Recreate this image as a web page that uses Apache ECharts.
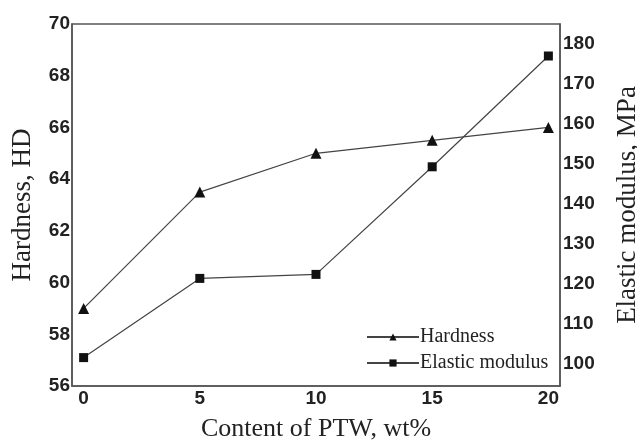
<!DOCTYPE html>
<html>
<head>
<meta charset="utf-8">
<script src="https://cdn.jsdelivr.net/npm/echarts@6/dist/echarts.min.js"></script>
<style>
  html, body { margin: 0; padding: 0; background: #fff; }
  #main { width: 637px; height: 446px; }
</style>
</head>
<body>
<div id="main"></div>
<script>
// PTW content (wt%) on x
var ptwContent = [0, 5, 10, 15, 20];
// hardness, HD (left axis)
var hardness = [59.0, 63.5, 65.0, 65.5, 66.0];
// elastic modulus, MPa (right axis)
var elasticModulus = [101.6, 121.4, 122.4, 149.3, 177.0];
// tick labels
var xTicks = [0, 5, 10, 15, 20];
var leftTicks = [56, 58, 60, 62, 64, 66, 68, 70];
var rightTicks = [100, 110, 120, 130, 140, 150, 160, 170, 180];

function pairs(xs, ys) {
    return xs.map(function (x, i) { return [x, ys[i]]; });
}

var tickFont = { fontFamily: 'Liberation Sans', fontWeight: 'bold', fontSize: 19, color: '#222' };
var frameLine = { show: true, onZero: false, lineStyle: { color: '#555', width: 1.5 } };

var myChart = echarts.init(document.getElementById('main'), null, { renderer: 'canvas' });
myChart.setOption({
    backgroundColor: '#fff',
    animation: false,
    grid: {
        left: 72, top: 24, right: 77, bottom: 60,
        outerBoundsMode: 'none', containLabel: false,
        show: true, borderColor: '#555', borderWidth: 1.5
    },
    legend: {
        orient: 'vertical',
        left: 361,
        top: 322,
        itemWidth: 52,
        itemHeight: 9,
        itemGap: 6,
        textStyle: { fontFamily: 'Liberation Serif', fontSize: 20, color: '#222', padding: [0, 0, 0, -4] },
        data: ['Hardness', 'Elastic modulus']
    },
    xAxis: {
        type: 'value',
        min: -0.5,
        max: 20.5,
        name: 'Content of PTW, wt%',
        nameLocation: 'middle',
        nameGap: 30,
        nameTextStyle: { fontFamily: 'Liberation Serif', fontSize: 26, color: '#222' },
        axisLine: frameLine,
        axisTick: { show: false },
        splitLine: { show: false },
        axisLabel: Object.assign({ customValues: xTicks, margin: 3 }, tickFont)
    },
    yAxis: [{
        type: 'value',
        position: 'left',
        min: 56,
        max: 70,
        interval: 2,
        name: 'Hardness, HD',
        nameLocation: 'middle',
        nameRotate: 90,
        nameGap: 36,
        nameTextStyle: { fontFamily: 'Liberation Serif', fontSize: 27, color: '#222' },
        axisLine: frameLine,
        axisTick: { show: false },
        splitLine: { show: false },
        axisLabel: Object.assign({ customValues: leftTicks, margin: 2 }, tickFont)
    }, {
        type: 'value',
        position: 'right',
        min: 94.5,
        max: 185,
        name: 'Elastic modulus, MPa',
        nameLocation: 'middle',
        nameRotate: 90,
        nameGap: 54,
        nameTextStyle: { fontFamily: 'Liberation Serif', fontSize: 27, color: '#222' },
        axisLine: frameLine,
        axisTick: { show: false },
        splitLine: { show: false },
        axisLabel: Object.assign({ customValues: rightTicks, margin: 3 }, tickFont)
    }],
    series: [{
        name: 'Hardness',
        type: 'line',
        yAxisIndex: 0,
        data: pairs(ptwContent, hardness),
        symbol: 'triangle',
        symbolSize: 11,
        itemStyle: { color: '#111' },
        lineStyle: { color: '#444', width: 1.2 }
    }, {
        name: 'Elastic modulus',
        type: 'line',
        yAxisIndex: 1,
        data: pairs(ptwContent, elasticModulus),
        symbol: 'rect',
        symbolSize: 9,
        itemStyle: { color: '#111' },
        lineStyle: { color: '#444', width: 1.2 }
    }]
});
</script>
</body>
</html>
